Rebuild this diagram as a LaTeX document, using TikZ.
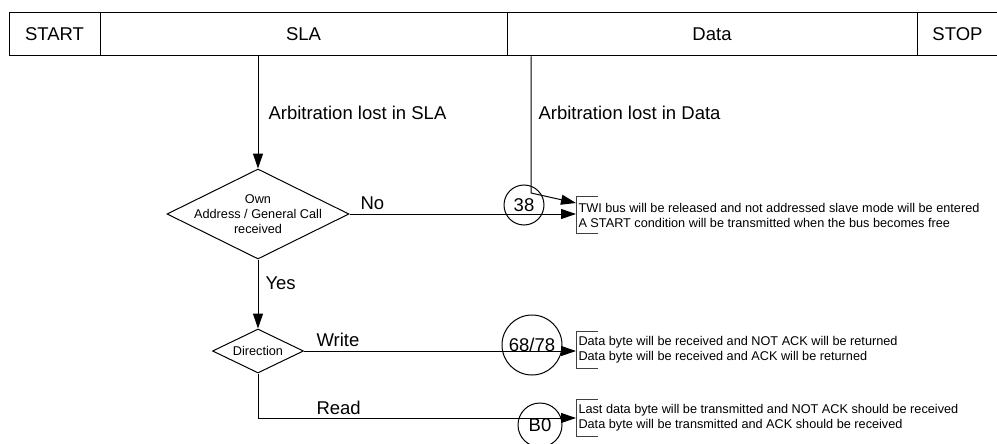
\documentclass[tikz,border=0pt]{standalone}
\usepackage{fontspec}
\setmainfont{Liberation Sans}
\usetikzlibrary{shapes.geometric,arrows.meta}

\begin{document}
\begin{tikzpicture}[x=1pt, y=-1pt, line width=1pt,
  cell/.style={draw, minimum height=43pt, inner sep=0pt, font=\fontsize{18.5}{20}\selectfont},
  decision/.style={draw, diamond, inner sep=0pt},
  state/.style={draw, circle, inner sep=0pt, font=\fontsize{18.5}{20}\selectfont},
  lbl/.style={anchor=west, inner sep=0pt, font=\fontsize{18.5}{20}\selectfont},
  small/.style={inner sep=0pt, align=center, font=\fontsize{12.7}{15}\selectfont},
  note/.style={anchor=west, inner xsep=2pt, inner ysep=0pt, minimum height=36pt, align=left, font=\fontsize{12.7}{15}\selectfont},
  bracket/.style={draw=black!75},
  arr/.style={-{Triangle[length=15pt,width=10pt]}}]

\useasboundingbox (0,0) rectangle (997,444);

% frame
\node[cell, minimum width=91pt]  (start) at (54.5,34.5)  {START};
\node[cell, minimum width=407pt] (sla)   at (303.5,34.5) {SLA};
\node[cell, minimum width=410pt] (data)  at (712,34.5)   {Data};
\node[cell, minimum width=81pt]  (stop)  at (957.5,34.5) {STOP};

\node[lbl] (lsla)  at (268,113) {Arbitration lost in SLA};
\node[lbl] (ldata) at (538,113) {Arbitration lost in Data};

% decisions
\node[decision, minimum width=182pt, minimum height=90pt] (own) at (258,214) {};
\node[small] (owntxt) at (own) {Own\\Address / General Call\\received};
\node[decision, minimum width=91pt, minimum height=44pt] (dir) at (258,351) {};
\node[small] (dirtxt) at (dir) {Direction};

\node[lbl] (lno)  at (360,203) {No};
\node[lbl] (lyes) at (265,283) {Yes};
\node[lbl] (lwr)  at (316,340) {Write};
\node[lbl] (lrd)  at (316,408) {Read};

% status codes
\node[state, minimum size=40pt] (s38) at (524,205) {38};
\node[state, minimum size=60pt] (s68) at (532,345) {68/78};
\node[state, minimum size=44pt] (sb0) at (540,425) {B0};

\node[note] (n38) at (576,215) {TWI bus will be released and not addressed slave mode will be entered\\A START condition will be transmitted when the bus becomes free};
\node[note] (n68) at (576,350) {Data byte will be received and NOT ACK will be returned\\Data byte will be received and ACK will be returned};
\node[note] (nb0) at (576,418) {Last data byte will be transmitted and NOT ACK should be received\\Data byte will be transmitted and ACK should be received};

\foreach \n in {n38,n68,nb0}
  \draw[bracket] ([xshift=22pt]\n.north west) -- (\n.north west) -- (\n.south west) -- ([xshift=22pt]\n.south west);

\coordinate (d38) at (531,193);

\draw[arr] (own.north |- sla.south) -- (own.north);
\draw[arr] (d38 |- data.south) -- (d38) -- ([yshift=12pt]n38.west);
\draw[arr] (own.east) -- (own.east -| n38.west);
\draw[arr] (own.south) -- (dir.north);
\draw[arr] (dir.east) -- (dir.east -| n68.west);
\draw[arr] (dir.south) |- (nb0.west);

\end{tikzpicture}
\end{document}
